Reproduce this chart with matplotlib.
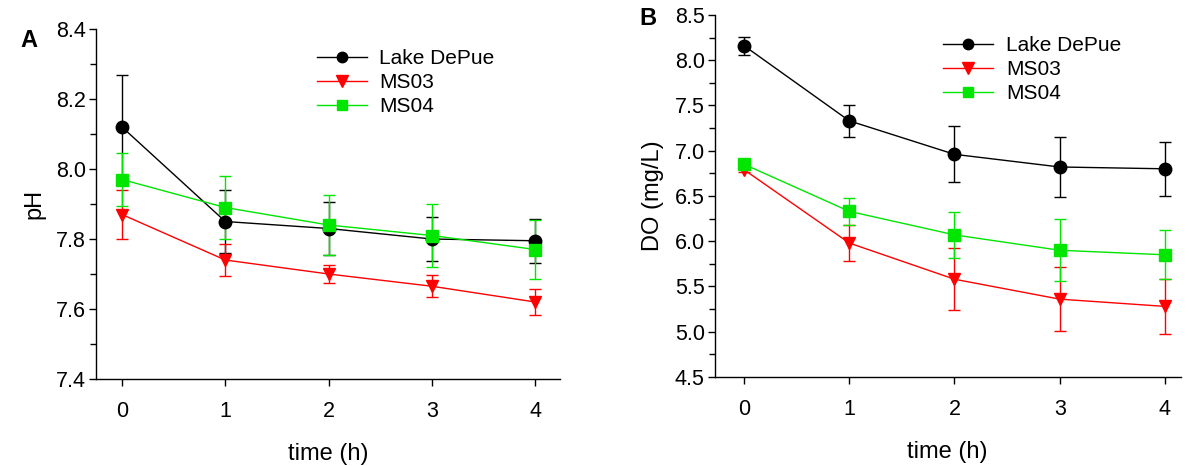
import matplotlib
matplotlib.use('Agg')
import matplotlib.pyplot as plt
from matplotlib.lines import Line2D
from matplotlib.ticker import MultipleLocator, FormatStrFormatter

plt.rcParams['font.family'] = ['Liberation Sans', 'DejaVu Sans']

time_h = [0, 1, 2, 3, 4]
series_names = ['Lake DePue', 'MS03', 'MS04']

# pH over time, mean and error
ph_depue = [8.12, 7.85, 7.83, 7.80, 7.795]
ph_depue_err = [0.15, 0.09, 0.075, 0.063, 0.063]
ph_ms03 = [7.87, 7.74, 7.70, 7.665, 7.62]
ph_ms03_err = [0.07, 0.045, 0.027, 0.032, 0.038]
ph_ms04 = [7.97, 7.89, 7.84, 7.81, 7.77]
ph_ms04_err = [0.075, 0.09, 0.085, 0.09, 0.085]

# dissolved oxygen (mg/L) over time, mean and error
do_depue = [8.16, 7.33, 6.96, 6.82, 6.80]
do_depue_err = [0.10, 0.18, 0.31, 0.33, 0.30]
do_ms03 = [6.79, 5.98, 5.58, 5.36, 5.28]
do_ms03_err = [0.03, 0.20, 0.34, 0.35, 0.30]
do_ms04 = [6.85, 6.33, 6.07, 5.90, 5.85]
do_ms04_err = [0.03, 0.15, 0.25, 0.34, 0.27]

styles = [
    dict(color='black', marker='o', ms=9.0, leg_ms=7.5),
    dict(color='#ff0000', marker='v', ms=9.0, leg_ms=8.0),
    dict(color='#00e600', marker='s', ms=8.0, leg_ms=7.0),
]


def draw_panel(ax, series, xlim, ylim, major, minor, ylabel, leg_anchor):
    handles = []
    for (vals, errs), name, st in zip(series, series_names, styles):
        ax.errorbar(time_h, vals, yerr=errs, color=st['color'], marker=st['marker'],
                    ms=st['ms'], mfc=st['color'], mec=st['color'], lw=1.0,
                    elinewidth=1.0, capsize=4.0, capthick=1.0)
        # legend entries without the error bars
        handles.append(Line2D([], [], color=st['color'], marker=st['marker'],
                              ms=st['leg_ms'], lw=1.0, label=name))
    ax.set_xlim(*xlim)
    ax.set_ylim(*ylim)
    ax.xaxis.set_major_locator(MultipleLocator(1))
    ax.yaxis.set_major_locator(MultipleLocator(major))
    ax.yaxis.set_minor_locator(MultipleLocator(minor))
    ax.yaxis.set_major_formatter(FormatStrFormatter('%.1f'))
    ax.spines['top'].set_visible(False)
    ax.spines['right'].set_visible(False)
    for sp in ('left', 'bottom'):
        ax.spines[sp].set_linewidth(1.0)
    ax.tick_params(which='major', direction='out', length=5, width=1.0, labelsize=15.5)
    ax.tick_params(which='minor', direction='out', length=4, width=1.0)
    ax.tick_params(axis='x', which='major', pad=11)
    ax.tick_params(axis='y', which='major', pad=2)
    ax.set_xlabel('time (h)', fontsize=17, labelpad=15)
    ax.set_ylabel(ylabel, fontsize=17, labelpad=8)
    ax.legend(handles=handles, loc='upper left', bbox_to_anchor=leg_anchor, frameon=False,
              fontsize=15, handlelength=2.4, handletextpad=0.6, labelspacing=0.25,
              borderpad=0.0, borderaxespad=0.0)


fig = plt.figure(figsize=(11.89, 4.66), dpi=100)
ax_a = fig.add_axes([0.0807, 0.1867, 0.3903, 0.751])
ax_b = fig.add_axes([0.601, 0.191, 0.392, 0.777])

draw_panel(ax_a, [(ph_depue, ph_depue_err), (ph_ms03, ph_ms03_err), (ph_ms04, ph_ms04_err)],
           (-0.252, 4.24), (7.4, 8.4), 0.2, 0.1, 'pH', (0.476, 0.943))

draw_panel(ax_b, [(do_depue, do_depue_err), (do_ms03, do_ms03_err), (do_ms04, do_ms04_err)],
           (-0.28, 4.15), (4.5, 8.5), 0.5, 0.25, 'DO (mg/L)', (0.491, 0.942))

fig.text(0.017, 0.914, 'A', fontsize=17, fontweight='bold', va='center')
fig.text(0.538, 0.961, 'B', fontsize=17, fontweight='bold', va='center')

fig.savefig('out.png', dpi=100)
